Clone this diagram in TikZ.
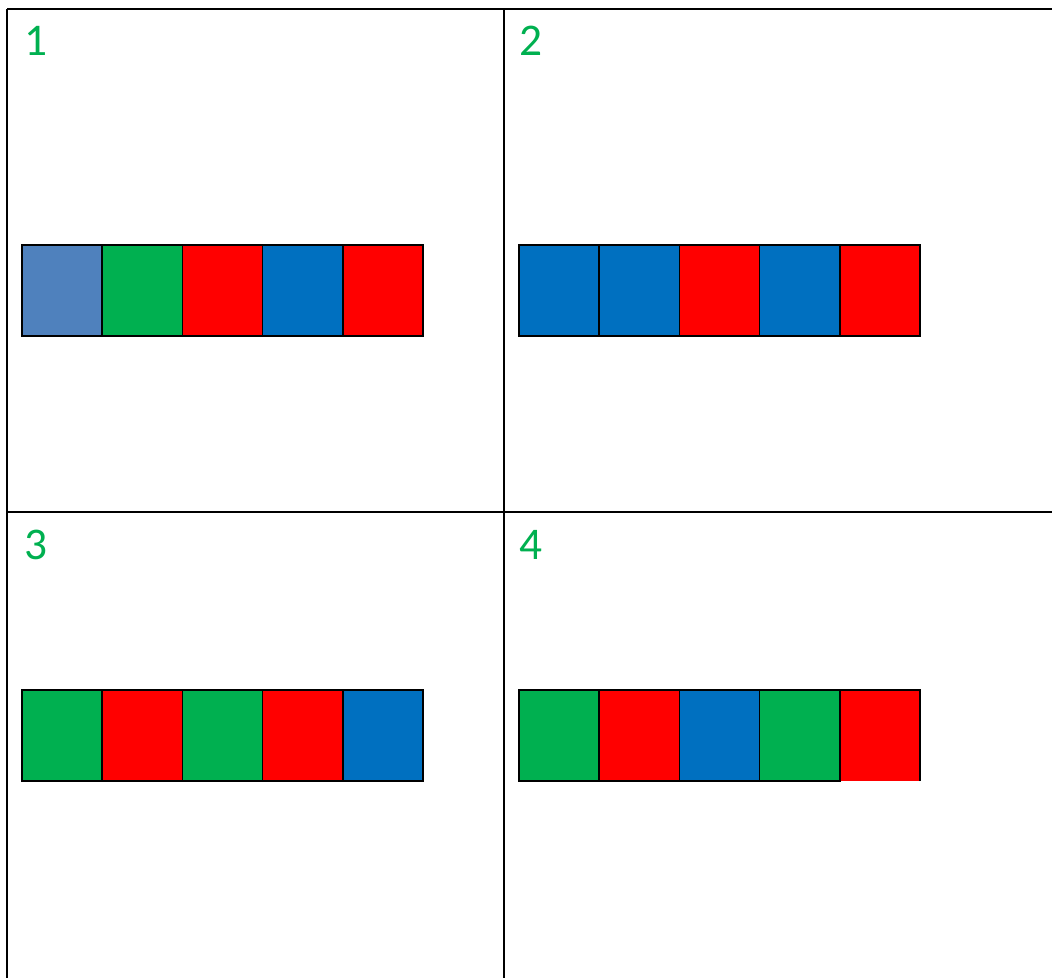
\documentclass[tikz,border=0pt]{standalone}
\usepackage{fontspec}
\setmainfont{Carlito}
\definecolor{lblue}{RGB}{79,129,189}
\definecolor{cgreen}{RGB}{0,176,80}
\definecolor{cred}{RGB}{255,0,0}
\definecolor{cblue}{RGB}{0,112,192}
\begin{document}
\begin{tikzpicture}[x=0.75pt,y=-0.75pt,
  grid/.style={line width=1.6pt,black},
  cell/.style={draw=black,line width=1.1pt,inner sep=0pt,outer sep=0pt,minimum width=60.15pt,minimum height=68.25pt,anchor=north west},
  bare/.style={draw=none,inner sep=0pt,outer sep=0pt,minimum width=60.15pt,minimum height=68.25pt,anchor=north west},
  num/.style={text=cgreen,font=\fontsize{34}{36}\selectfont,inner sep=0pt,anchor=base west}]
\useasboundingbox (0,0) rectangle (1052,978);
% table
\coordinate (tl) at (7,9);
\coordinate (tr) at (1052,9);
\coordinate (bl) at (7,978);
\coordinate (mt) at (504,9);
\coordinate (mb) at (504,978);
\coordinate (ml) at (7,512);
\coordinate (mr) at (1052,512);
\draw[grid] (tl) -- (tr);
\draw[grid] (tl) -- (bl);
\draw[grid] (mt) -- (mb);
\draw[grid] (ml) -- (mr);
% numbers
\node[num] (n1) at (24,55) {1};
\node[num] (n2) at (519,55) {2};
\node[num] (n3) at (24,559) {3};
\node[num] (n4) at (519,559) {4};
% panel 1
\node[cell,fill=lblue] (a1) at (22,245) {};
\node[cell,fill=cgreen] (a2) at (102.2,245) {};
\node[cell,fill=cred] (a3) at (182.4,245) {};
\node[cell,fill=cblue] (a4) at (262.6,245) {};
\node[cell,fill=cred] (a5) at (342.8,245) {};
% panel 2
\node[cell,fill=cblue] (b1) at (519,245) {};
\node[cell,fill=cblue] (b2) at (599.2,245) {};
\node[cell,fill=cred] (b3) at (679.4,245) {};
\node[cell,fill=cblue] (b4) at (759.6,245) {};
\node[cell,fill=cred] (b5) at (839.8,245) {};
% panel 3
\node[cell,fill=cgreen] (c1) at (22,690) {};
\node[cell,fill=cred] (c2) at (102.2,690) {};
\node[cell,fill=cgreen] (c3) at (182.4,690) {};
\node[cell,fill=cred] (c4) at (262.6,690) {};
\node[cell,fill=cblue] (c5) at (342.8,690) {};
% panel 4
\node[cell,fill=cgreen] (d1) at (519,690) {};
\node[cell,fill=cred] (d2) at (599.2,690) {};
\node[cell,fill=cblue] (d3) at (679.4,690) {};
\node[cell,fill=cgreen] (d4) at (759.6,690) {};
\node[bare,fill=cred] (d5) at (839.8,690) {};
\draw[line width=1.1pt] (d5.south east) -- (d5.north east) -- (d5.north west);
\draw[line width=1.1pt] (d4.north east) -- (d4.south east);
\end{tikzpicture}
\end{document}
